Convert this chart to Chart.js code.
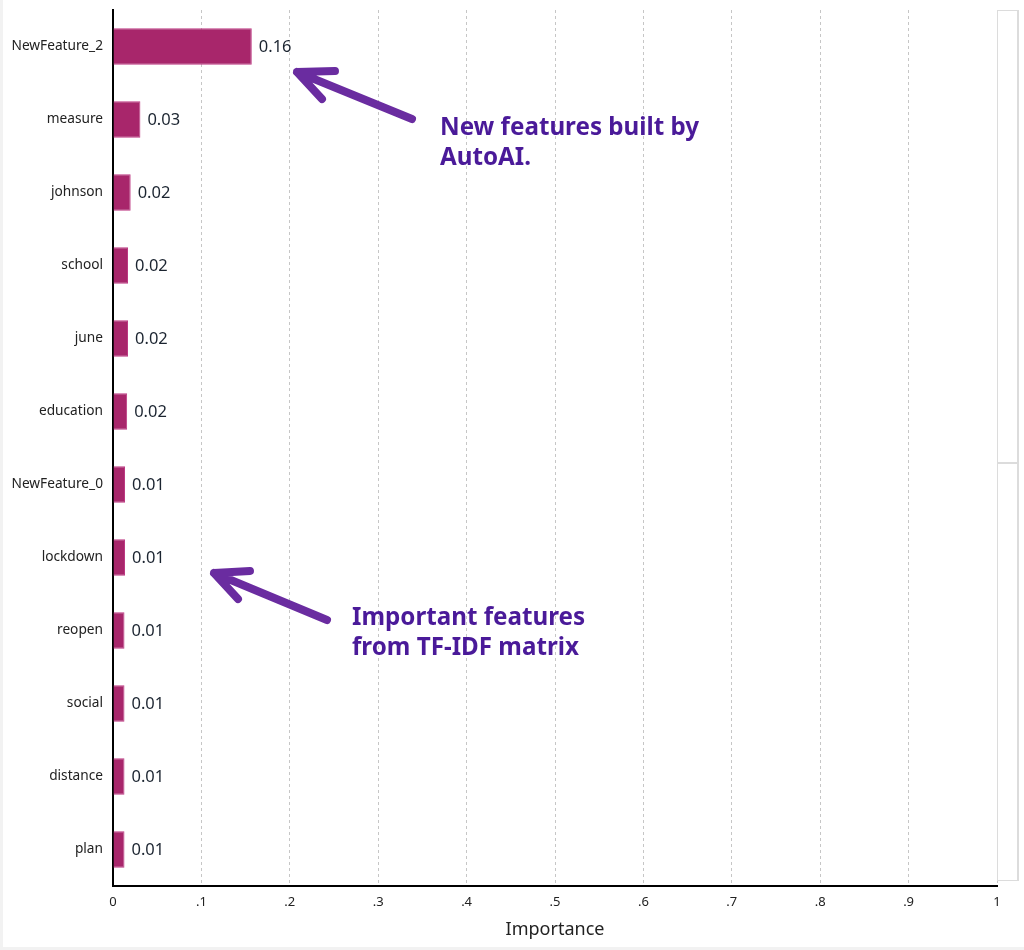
<!DOCTYPE html>
<html>
<head>
<meta charset="utf-8">
<script src="https://cdn.jsdelivr.net/npm/chart.js@4/dist/chart.umd.min.js"></script>
<style>
  html, body { margin: 0; padding: 0; background: #f2f2f2; }
  #wrap { position: relative; width: 1021px; height: 947px; margin-left: 3px; background: #fff; }
  #scroll { position: absolute; left: 994px; top: 10px; width: 19px; height: 869px; border: 1px solid #dcdcdc; border-right-width: 2px; box-sizing: content-box; }
  #scroll div { position: absolute; left: 0; right: 0; top: 451px; border-top: 2px solid #dcdcdc; }
</style>
</head>
<body>
<div id="wrap">
  <canvas id="barChart" width="1021" height="947"></canvas>
  <div id="scroll"><div></div></div>
</div>
<script>
// feature importance
var features = ["NewFeature_2", "measure", "johnson", "school", "june", "education",
  "NewFeature_0", "lockdown", "reopen", "social", "distance", "plan"];
var importance = [0.157, 0.031, 0.020, 0.017, 0.017, 0.016, 0.0136, 0.0136, 0.013, 0.013, 0.013, 0.013];
var xTicks = [0, .1, .2, .3, .4, .5, .6, .7, .8, .9, 1];

var notes = [
  { lines: ["New features built by", "AutoAI."], x: 437, y: 135,
    arrow: [[294, 72], [332, 71], [319, 99], [409, 119]] },
  { lines: ["Important features", "from TF-IDF matrix"], x: 349, y: 625,
    arrow: [[211, 573], [247, 571], [235, 599], [324, 620]] }
];

var valueLabels = {
  id: 'valueLabels',
  afterDatasetsDraw: function (chart) {
    var ctx = chart.ctx;
    var meta = chart.getDatasetMeta(0);
    ctx.save();
    ctx.font = '16.5px "Noto Sans"';
    ctx.fillStyle = '#1b2430';
    ctx.textBaseline = 'middle';
    meta.data.forEach(function (bar, i) {
      ctx.fillText(importance[i].toFixed(2), bar.x + 7, bar.y + 1);
    });
    ctx.restore();
  }
};

var annotations = {
  id: 'annotations',
  afterDraw: function (chart) {
    var ctx = chart.ctx;
    ctx.save();
    notes.forEach(function (n) {
      var a = n.arrow;
      ctx.strokeStyle = '#6a2ca0';
      ctx.lineWidth = 8;
      ctx.lineCap = 'round';
      ctx.lineJoin = 'round';
      ctx.beginPath();
      ctx.moveTo(a[3][0], a[3][1]);
      ctx.lineTo(a[0][0], a[0][1]);
      ctx.moveTo(a[1][0], a[1][1]);
      ctx.lineTo(a[0][0], a[0][1]);
      ctx.lineTo(a[2][0], a[2][1]);
      ctx.stroke();
      ctx.fillStyle = '#4a1a99';
      ctx.font = 'bold 24.2px "Noto Sans"';
      ctx.textBaseline = 'alphabetic';
      n.lines.forEach(function (t, k) {
        ctx.fillText(t, n.x, n.y + k * 30);
      });
    });
    ctx.restore();
  }
};

var ctxB = document.getElementById("barChart").getContext('2d');
var myBarChart = new Chart(ctxB, {
  type: 'bar',
  data: {
    labels: features,
    datasets: [{
      label: "Importance",
      data: importance,
      backgroundColor: '#a8266b',
      borderColor: '#bd3a83',
      borderWidth: 1,
      categoryPercentage: 1,
      barPercentage: 0.5
    }]
  },
  options: {
    indexAxis: 'y',
    responsive: false,
    animation: false,
    layout: { padding: { top: 10, right: 27, bottom: 4, left: 0 } },
    plugins: { legend: { display: false }, tooltip: { enabled: false } },
    scales: {
      x: {
        min: 0,
        max: 1,
        afterBuildTicks: function (scale) {
          scale.ticks = xTicks.map(function (v) { return { value: v }; });
        },
        afterFit: function (scale) { scale.height = 57; },
        ticks: {
          padding: 8,
          color: '#222',
          font: { family: '"Noto Sans"', size: 13 },
          callback: function (v) {
            if (v === 0 || v === 1) return String(v);
            return v.toFixed(1).replace(/^0/, '');
          }
        },
        grid: {
          color: function (c) { return c.tick && c.tick.value === 0 ? 'rgba(0,0,0,0)' : '#c6c6c6'; },
          drawTicks: false
        },
        border: { display: true, color: '#000', width: 2, dash: [3, 3] },
        title: {
          display: true,
          text: 'Importance',
          color: '#222',
          font: { family: '"Noto Sans"', size: 18 },
          padding: { top: 8, bottom: 2 }
        }
      },
      y: {
        afterFit: function (scale) {
          scale.width = 110;
          scale.paddingTop = 0;
          scale.paddingBottom = 0;
        },
        ticks: {
          padding: 10,
          color: '#222',
          font: { family: '"Noto Sans"', size: 13.7 }
        },
        grid: { display: false, drawTicks: false },
        border: { display: true, color: '#000', width: 2 }
      }
    }
  },
  plugins: [valueLabels, annotations]
});
</script>
</body>
</html>
